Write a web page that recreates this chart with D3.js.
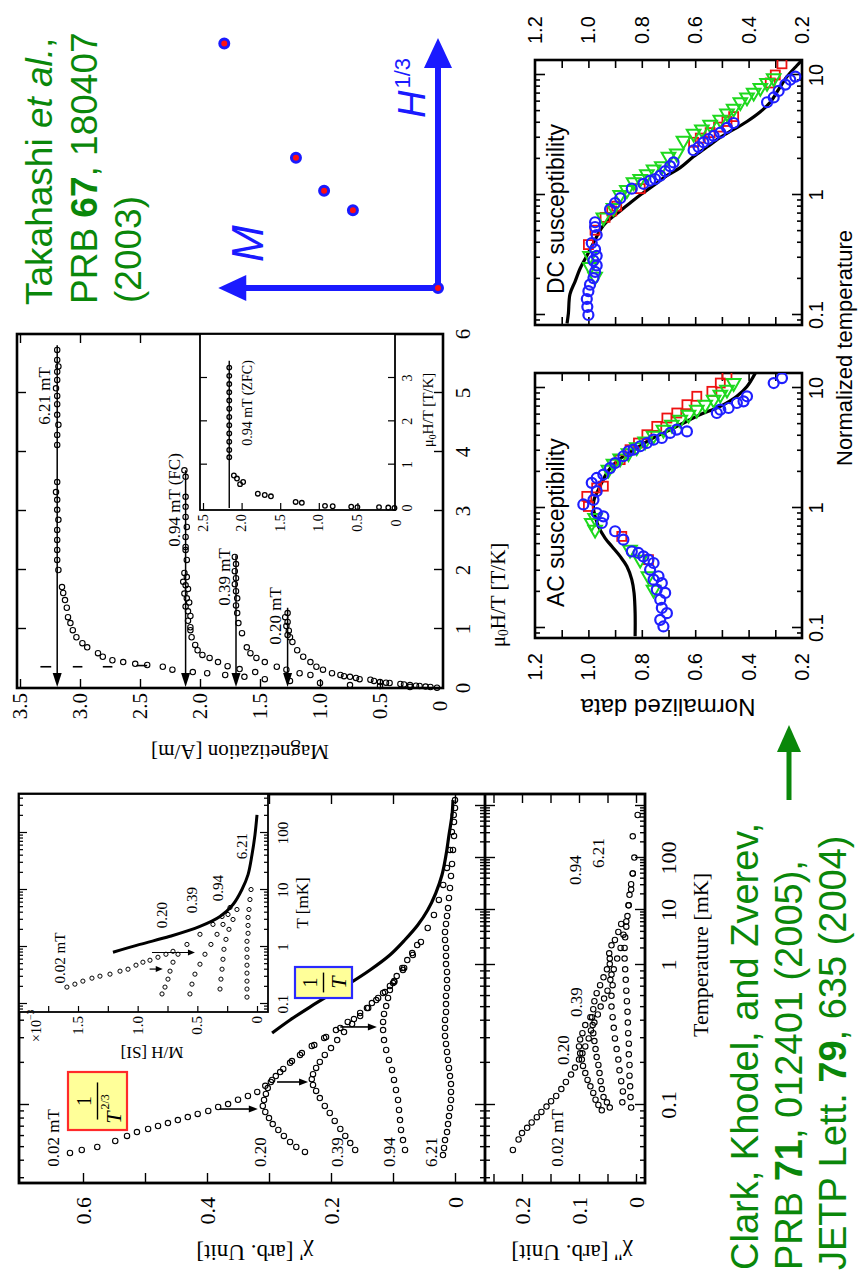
<!DOCTYPE html>
<html>
<head>
<meta charset="utf-8">
<script src="https://cdn.jsdelivr.net/npm/d3@7/dist/d3.min.js"></script>
<style>
html,body{margin:0;padding:0;background:#fff;}
svg{display:block;}
</style>
</head>
<body>
<script>
// ================= DATA =================
// Panel A: AC susceptibility chi' (T in mK, chi' in arb. units)
const chiP_002 = [[0.0454,0.621],[0.0477,0.602],[0.0501,0.577],[0.0553,0.548],[0.0601,0.529],[0.0641,0.513],[0.0674,0.495],[0.0708,0.479],[0.0743,0.463],[0.078,0.447],[0.082,0.431],[0.0863,0.415],[0.0906,0.398],[0.0968,0.382],[0.1016,0.366],[0.109,0.35],[0.116,0.334],[0.124,0.319],[0.137,0.306],[0.151,0.295],[0.172,0.282],[0.2,0.266],[0.228,0.25],[0.264,0.231],[0.301,0.211],[0.343,0.192],[0.392,0.173],[0.454,0.153],[0.535,0.134],[0.631,0.116],[0.769,0.098],[0.952,0.082],[1.52,0.068],[2.62,0.055],[4.71,0.044],[8.11,0.034],[15.6,0.026],[30.3,0.019],[64.3,0.013],[143,0.008],[316,0.005],[671,0.002],[1300,0.0]];
const chiP_020 = [[0.0462,0.242],[0.0501,0.256],[0.0544,0.266],[0.0601,0.276],[0.0663,0.285],[0.0731,0.294],[0.0807,0.300],[0.0891,0.306],[0.0984,0.310],[0.1086,0.308],[0.12,0.305],[0.132,0.302],[0.146,0.297],[0.161,0.289],[0.181,0.277],[0.206,0.263],[0.235,0.247],[0.268,0.227],[0.306,0.208],[0.355,0.185],[0.411,0.163],[0.493,0.142],[0.581,0.124],[0.708,0.105]];
const chiP_039 = [[0.0477,0.161],[0.0535,0.169],[0.0601,0.177],[0.0674,0.185],[0.0769,0.194],[0.0877,0.202],[0.0984,0.21],[0.112,0.218],[0.126,0.224],[0.139,0.229],[0.153,0.231],[0.166,0.229],[0.184,0.224],[0.203,0.218],[0.228,0.21],[0.255,0.2],[0.291,0.19],[0.332,0.179],[0.379,0.166],[0.432,0.153],[0.493,0.14],[0.562,0.127],[0.641,0.113],[0.756,0.098],[0.921,0.084]];
const chiP_094 = [[0.0477,0.0806],[0.0562,0.0839],[0.0663,0.0871],[0.0781,0.0887],[0.0921,0.0903],[0.1086,0.0919],[0.128,0.0952],[0.151,0.0984],[0.178,0.1016],[0.21,0.1065],[0.247,0.111],[0.291,0.1145],[0.343,0.116],[0.392,0.116],[0.447,0.1145],[0.509,0.111],[0.581,0.108],[0.663,0.105],[0.744,0.1],[0.834,0.094],[0.952,0.085],[1.23,0.077],[1.65,0.069],[2.31,0.061]];
const chiP_621 = [[0.0439,0.0194],[0.0493,0.0177],[0.0562,0.0161],[0.0641,0.0129],[0.0731,0.0113],[0.0834,0.0097],[0.0952,0.0081],[0.1086,0.0065],[0.124,0.0065],[0.141,0.0065],[0.161,0.0081],[0.184,0.0097],[0.21,0.0113],[0.239,0.0129],[0.273,0.0145],[0.311,0.0161],[0.355,0.0161],[0.405,0.0161],[0.462,0.0145],[0.526,0.0145],[0.601,0.0145],[0.685,0.0129],[0.781,0.0129],[0.891,0.0129],[1.04,0.0145],[1.46,0.0145],[2.04,0.0145],[2.85,0.0161],[3.98,0.0161],[5.56,0.0145],[7.78,0.0129],[10.9,0.0113],[17,0.0097],[26.5,0.0081],[45.1,0.0065],[76.7,0.0048],[143,0.0032],[265,0.0016],[492,0.0016],[916,0.0]];
const fitInvT = [[0.327,0.295],[0.405,0.266],[0.501,0.234],[0.611,0.202],[0.744,0.169],[0.921,0.137],[1.52,0.105],[2.85,0.081],[5.34,0.06],[10,0.044],[21.2,0.031],[47.1,0.021],[114,0.0145],[277,0.0097],[671,0.0048],[1300,0.0032]];
// peak arrows: [T, chi' start, chi' end]
const chiP_arrows = [[0.0936,0.379,0.318],[0.146,0.287,0.237],[0.361,0.185,0.126]];

// Panel A: chi''
const chiPP_002 = [[0.0477,0.216],[0.0567,0.206],[0.063,0.2],[0.0687,0.191],[0.075,0.183],[0.0818,0.174],[0.0893,0.166],[0.0975,0.157],[0.1064,0.149],[0.116,0.14],[0.13,0.131],[0.146,0.123],[0.165,0.114],[0.185,0.107],[0.211,0.1],[0.234,0.094],[0.262,0.089],[0.299,0.083],[0.341,0.079],[0.388,0.073],[0.443,0.067],[0.505,0.062],[0.576,0.056],[0.656,0.05],[0.783,0.045],[0.931,0.039],[1.31,0.033],[2.04,0.027],[3.56,0.022],[6.21,0.017],[12.3,0.013],[24.8,0.0086],[50.3,0.0057],[102,0.0029],[261,0.0057],[671,-0.0029]];
const chiPP_020 = [[0.0916,0.06],[0.1,0.066],[0.109,0.071],[0.122,0.075],[0.136,0.08],[0.151,0.085],[0.169,0.089],[0.19,0.093],[0.211,0.095],[0.234,0.098],[0.262,0.1],[0.294,0.098],[0.326,0.094],[0.372,0.089],[0.424,0.08]];
const chiPP_039 = [[0.0958,0.046],[0.1045,0.051],[0.114,0.057],[0.13,0.06],[0.148,0.062],[0.169,0.064],[0.193,0.066],[0.22,0.069],[0.251,0.071],[0.286,0.073],[0.326,0.075],[0.372,0.076],[0.424,0.077],[0.483,0.075],[0.551,0.073],[0.629,0.069],[0.718,0.063],[0.817,0.057],[0.931,0.051],[1.31,0.046]];
const chiPP_094 = [[0.1045,0.024],[0.125,0.023],[0.148,0.026],[0.177,0.029],[0.211,0.031],[0.251,0.034],[0.299,0.037],[0.356,0.039],[0.424,0.041],[0.505,0.043],[0.602,0.043],[0.718,0.041],[0.854,0.043],[1.04,0.046],[1.63,0.047],[2.28,0.043],[2.85,0.037],[3.98,0.031],[5.56,0.026]];
const chiPP_621 = [[0.0958,0.0086],[0.114,0.0097],[0.136,0.0103],[0.162,0.0114],[0.193,0.0114],[0.23,0.0126],[0.274,0.0126],[0.326,0.0137],[0.388,0.0143],[0.463,0.0149],[0.551,0.016],[0.656,0.017],[0.783,0.018],[0.931,0.019],[1.31,0.02],[2.04,0.02],[3.18,0.019],[4.97,0.017],[7.74,0.015],[12.3,0.013],[19.6,0.0114],[31.3,0.0086],[50.3,0.0057]];

// Inset of panel A: M/H (x10^-3 SI) vs T (mK)
const ins_fit = [[0.808,1.207],[1.11,0.981],[1.54,0.729],[2.3,0.478],[3.43,0.31],[5.56,0.201],[10.2,0.126],[18.6,0.075],[41.5,0.042],[92.7,0.017],[207,0.0]];
const ins_002 = [[0.198,1.593],[0.223,1.526],[0.252,1.459],[0.284,1.383],[0.308,1.316],[0.334,1.232],[0.377,1.148],[0.408,1.081],[0.48,1.014],[0.541,0.956],[0.586,0.897],[0.661,0.83],[0.746,0.763],[0.841,0.704]];
const ins_020 = [[0.15,0.796],[0.198,0.771],[0.273,0.746],[0.377,0.729],[0.541,0.704],[0.746,0.662],[1.11,0.587],[1.67,0.478],[2.49,0.369],[3.43,0.293],[4.94,0.226]];
const ins_039 = [[0.15,0.562],[0.223,0.545],[0.334,0.52],[0.499,0.478],[0.746,0.436],[1.11,0.386],[1.67,0.335],[2.49,0.285],[3.72,0.243]];
const ins_094 = [[0.183,0.31],[0.273,0.302],[0.408,0.293],[0.609,0.285],[0.912,0.277],[1.36,0.26],[2.04,0.235],[3.04,0.201],[4.55,0.168]];
const ins_621 = [[0.132,0.084],[0.183,0.084],[0.252,0.084],[0.348,0.084],[0.48,0.084],[0.661,0.084],[0.912,0.084],[1.26,0.084],[1.74,0.075],[2.39,0.075],[3.3,0.075],[4.55,0.067],[6.8,0.059],[10.2,0.05]];
const ins_arrows = [[0.8,0.88,0.52],[0.41,0.9,0.79]];

// Panel B: magnetization (A/m) vs mu0H/T (T/K)
const magFields = ["6.21 mT", "0.94 mT (FC)", "0.39 mT", "0.20 mT"];
const magPlateauM = [3.19, 2.12, 1.70, 1.27];
const magPlateauEnd = [5.81, 3.69, 2.25, 1.36];
const mag_621 = [[5.73,3.19],[5.56,3.19],[5.45,3.18],[5.36,3.19],[5.22,3.19],[5.08,3.2],[4.95,3.19],[4.81,3.19],[4.63,3.19],[4.46,3.18],[4.29,3.19],[4.12,3.19],[3.49,3.19],[3.32,3.2],[3.19,3.19],[3.02,3.19],[2.85,3.18],[2.68,3.19],[2.51,3.19],[2.34,3.19],[2.17,3.19],[2.0,3.18],[1.71,3.15],[1.61,3.14],[1.49,3.125],[1.36,3.11],[1.2,3.1],[1.1,3.08],[0.98,3.06],[0.86,3.03],[0.76,2.98],[0.69,2.94],[0.59,2.85],[0.53,2.81],[0.47,2.73],[0.44,2.64],[0.41,2.54],[0.39,2.44],[0.36,2.31],[0.31,2.23],[0.27,2.06],[0.25,1.94],[0.22,1.79],[0.19,1.63],[0.15,1.46],[0.12,1.25],[0.085,1.0],[0.05,0.75],[0.034,0.5],[0.017,0.25]];
const mag_094 = [[3.69,2.13],[3.58,2.12],[3.24,2.12],[3.07,2.12],[2.9,2.12],[2.73,2.11],[2.56,2.12],[2.39,2.12],[2.34,2.12],[2.17,2.11],[1.95,2.13],[1.88,2.11],[1.8,2.14],[1.74,2.12],[1.68,2.1],[1.6,2.13],[1.52,2.11],[1.45,2.09],[1.38,2.12],[1.3,2.1],[1.22,2.08],[1.14,2.1],[1.03,2.08],[0.98,2.08],[0.86,2.07],[0.73,2.04],[0.64,2.02],[0.56,1.98],[0.51,1.92],[0.44,1.85],[0.37,1.77],[0.32,1.67],[0.27,1.54]];
const mag_039 = [[2.22,1.71],[2.1,1.7],[1.98,1.71],[1.86,1.7],[1.76,1.71],[1.64,1.7],[1.52,1.69],[1.4,1.7],[1.27,1.69],[1.1,1.68],[0.93,1.65],[0.69,1.61],[0.59,1.58],[0.51,1.53],[0.44,1.46],[0.36,1.36],[0.31,1.28],[0.25,1.17],[0.22,1.08]];
const mag_020 = [[1.27,1.27],[1.2,1.29],[1.12,1.27],[1.05,1.28],[0.97,1.26],[0.9,1.27],[0.86,1.25],[0.78,1.23],[0.64,1.19],[0.53,1.14],[0.44,1.08],[0.36,1.03],[0.31,0.975],[0.25,0.9]];
const mag_low = [[0.22,0.83],[0.19,0.75],[0.15,0.67],[0.14,0.58],[0.1,0.5],[0.085,0.42],[0.068,0.33],[0.05,0.25],[0.034,0.17],[0.017,0.08],[0.005,0.025],[0.2,0.8],[0.17,0.7],[0.12,0.55],[0.09,0.45],[0.06,0.3],[0.04,0.2],[0.025,0.12]];
const mag_bars = [[0.36,3.24,3.33],[0.36,2.98,3.06],[0.36,2.73,2.81],[0.38,2.44,2.53]];
// Inset of panel B: 0.94 mT ZFC
const zfcM = 2.16, zfcEnd = 3.4;
const zfc = [[3.24,2.16],[3.05,2.16],[2.86,2.16],[2.67,2.16],[2.48,2.16],[2.29,2.16],[2.1,2.16],[1.91,2.16],[1.72,2.16],[1.53,2.16],[1.34,2.16],[1.17,2.16],[0.75,2.1],[0.68,2.06],[0.6,1.98],[0.55,2.02],[0.33,1.79],[0.3,1.7],[0.27,1.62],[0.14,1.3],[0.12,1.22],[0.05,0.92],[0.04,0.82],[0.03,0.58],[0.02,0.5],[0.02,0.22],[0.01,0.1],[0.0,0.02]];

// Panel C/D: normalized data vs normalized temperature
const ac_fit = [[0.0853,0.825],[0.133,0.825],[0.196,0.829],[0.253,0.8375],[0.327,0.856],[0.395,0.881],[0.48,0.9125],[0.562,0.9375],[0.704,0.9625],[0.852,0.975],[1.0,0.981],[1.17,0.979],[1.33,0.969],[1.62,0.95],[1.96,0.931],[2.3,0.906],[2.7,0.869],[3.16,0.819],[3.71,0.769],[4.35,0.706],[5.11,0.644],[6.0,0.581],[7.03,0.506],[8.53,0.444],[10.3,0.406],[13.3,0.375]];
const ac_blue = [[0.103,0.719],[0.117,0.731],[0.133,0.706],[0.147,0.725],[0.172,0.731],[0.196,0.7125],[0.209,0.744],[0.237,0.725],[0.253,0.756],[0.27,0.7375],[0.306,0.769],[0.348,0.756],[0.371,0.775],[0.395,0.794],[0.422,0.8125],[0.435,0.8375],[0.545,0.869],[0.64,0.9],[0.75,0.95],[0.852,0.944],[0.908,0.969],[1.07,1.019],[1.17,0.981],[1.38,0.969],[1.62,0.9875],[1.78,0.969],[1.9,0.944],[2.15,0.919],[2.37,0.9],[2.7,0.869],[2.97,0.85],[3.06,0.831],[3.27,0.806],[3.48,0.781],[3.71,0.756],[3.83,0.725],[4.22,0.694],[4.5,0.669],[4.35,0.631],[6.19,0.519],[6.6,0.506],[6.81,0.475],[7.5,0.444],[7.74,0.419],[8.53,0.406],[11.0,0.306],[12.1,0.275]];
const ac_red = [[1.25,1.006],[1.03,1.0],[1.47,0.969],[1.52,0.944],[0.58,0.875],[0.371,0.775],[2.53,0.881],[3.06,0.844],[3.48,0.8125],[4.08,0.781],[4.79,0.744],[5.62,0.706],[6.19,0.669],[7.26,0.631],[8.53,0.594],[9.38,0.5375],[11.0,0.506],[12.9,0.481]];
const ac_green = [[0.209,0.756],[0.27,0.775],[0.371,0.806],[0.45,0.844],[0.66,0.975],[0.75,0.9875],[0.826,0.975],[2.09,0.925],[2.34,0.906],[2.59,0.881],[2.87,0.85],[3.22,0.819],[3.59,0.7875],[4.01,0.756],[4.5,0.719],[4.95,0.6875],[5.45,0.656],[6.0,0.625],[6.6,0.594],[7.26,0.5625],[8.0,0.531],[8.8,0.506],[9.68,0.481],[11.0,0.456]];
const dc_fit = [[0.085,1.08],[0.103,1.075],[0.149,1.069],[0.19,1.05],[0.244,1.031],[0.311,1.006],[0.398,0.981],[0.479,0.9625],[0.558,0.944],[0.631,0.919],[0.736,0.881],[0.858,0.844],[1.0,0.806],[1.2,0.756],[1.45,0.706],[1.69,0.656],[2.09,0.606],[2.51,0.556],[3.02,0.506],[3.52,0.456],[4.1,0.406],[4.94,0.356],[5.93,0.319],[7.59,0.2875],[9.7,0.256],[12.0,0.219],[13.3,0.2]];
const dc_blue = [[0.1,1.0],[0.117,1.004],[0.136,1.006],[0.158,1.0],[0.179,0.994],[0.203,0.981],[0.229,0.975],[0.259,0.969],[0.284,0.981],[0.311,0.969],[0.352,0.975],[0.398,0.9875],[0.464,0.969],[0.541,0.975],[0.593,0.975],[0.759,0.919],[0.858,0.9],[0.94,0.881],[1.13,0.8375],[1.24,0.794],[1.32,0.769],[1.36,0.75],[1.45,0.731],[1.58,0.7125],[1.74,0.694],[1.87,0.681],[2.36,0.606],[2.51,0.5875],[2.75,0.569],[2.93,0.55],[3.11,0.531],[3.31,0.506],[3.63,0.481],[3.98,0.456],[5.93,0.331],[6.5,0.306],[7.36,0.2875],[8.32,0.2625],[9.12,0.244],[9.7,0.225]];
const dc_red = [[0.386,1.0],[0.509,0.975],[0.651,0.9375],[0.736,0.9125],[0.807,0.894],[1.13,0.806],[2.75,0.606],[2.98,0.581],[3.31,0.544],[3.68,0.5125],[4.1,0.481],[4.5,0.456],[8.58,0.319],[10.0,0.3],[12.4,0.275]];
const dc_green = [[0.209,0.975],[0.251,0.994],[0.311,0.994],[0.651,0.944],[0.782,0.906],[1.0,0.881],[1.1,0.856],[1.28,0.831],[1.36,0.806],[1.49,0.781],[1.63,0.756],[1.74,0.725],[2.09,0.7],[2.22,0.669],[2.84,0.644],[3.25,0.606],[3.52,0.575],[3.86,0.544],[4.24,0.506],[4.79,0.481],[5.25,0.456],[5.93,0.431],[6.5,0.406],[7.13,0.381],[7.82,0.356],[8.58,0.331],[9.4,0.306]];

// Schematic: M against H^(1/3) for the four fields
const schemFields = [0.20, 0.39, 0.94, 6.21];
const schemM = [1.27, 1.70, 2.12, 3.19];

// ================= DRAWING =================
const SERIF = "'Liberation Serif','Times New Roman',serif";
const SANS = "'Liberation Sans',Arial,Helvetica,sans-serif";
const W = 1278, H = 858;

const svg = d3.select('body').append('svg').attr('width', H).attr('height', W);
svg.append('rect').attr('width', H).attr('height', W).attr('fill', '#fff');
// the whole sheet is laid out landscape and turned a quarter turn
const root = svg.append('g').attr('transform', `translate(0,${W}) rotate(-90)`);

function txt(parent, u, v, s, o = {}) {
  const t = parent.append('text').attr('x', u).attr('y', v)
    .attr('font-family', o.family || SERIF).attr('font-size', o.size || 16)
    .attr('text-anchor', o.anchor || 'middle')
    .attr('dominant-baseline', o.baseline || 'central')
    .attr('fill', o.fill || '#000');
  if (s !== null) t.text(s);
  if (o.rotate) t.attr('transform', `rotate(${o.rotate},${u},${v})`);
  if (o.style) t.attr('font-style', o.style);
  if (o.weight) t.attr('font-weight', o.weight);
  return t;
}
function ticks(parent, axis, tx, ty, sw = 1.4) {
  const gg = parent.append('g').attr('transform', `translate(${tx},${ty})`).call(axis);
  gg.select('.domain').remove();
  gg.selectAll('.tick line').attr('stroke', '#000').attr('stroke-width', sw);
  gg.selectAll('.tick text').remove();
  return gg;
}
function frame(parent, u0, v0, u1, v1, sw) {
  parent.append('rect').attr('x', u0).attr('y', v0).attr('width', u1 - u0).attr('height', v1 - v0)
    .attr('fill', 'none').attr('stroke', '#000').attr('stroke-width', sw);
}
function minorLog(lo, hi) {
  const out = [];
  for (let e = Math.floor(Math.log10(lo)); e <= Math.ceil(Math.log10(hi)); e++)
    for (let k = 2; k <= 9; k++) { const t = k * Math.pow(10, e); if (t > lo && t < hi) out.push(t); }
  return out;
}
function openCircles(parent, data, sx, sy, r, stroke, sw) {
  parent.append('g').selectAll('circle').data(data).join('circle')
    .attr('cx', d => sx(d[0])).attr('cy', d => sy(d[1])).attr('r', r)
    .attr('fill', 'none').attr('stroke', stroke).attr('stroke-width', sw);
}

// ---------- Panel A: chi' and chi'' ----------
const A = { u0: 95, u1: 484, v0: 19, vd: 485, v1: 645 };
const xAlog = d3.scaleLinear().domain([-1, 0, 1, 2]).range([173, 313, 368, 420]);
const xA = t => xAlog(Math.log10(t));
const yA1 = d3.scaleLinear().domain([0, 0.6]).range([455, 83]);
const yA2 = d3.scaleLinear().domain([0, 0.2]).range([636, 522]);
const IA = { u0: 266, u1: 484, v0: 19, v1: 268 };
const gA = root.append('g');

frame(gA, A.u0, A.v0, A.u1, A.v1, 2.8);
gA.append('line').attr('x1', A.u0).attr('x2', A.u1).attr('y1', A.vd).attr('y2', A.vd).attr('stroke', '#000').attr('stroke-width', 2.8);

const tLo = Math.pow(10, xAlog.invert(A.u0)), tHi = Math.pow(10, xAlog.invert(A.u1));
const majA = [0.1, 1, 10, 100, 1000].filter(t => t < tHi).map(Math.log10);
const minA = minorLog(tLo, tHi).map(Math.log10);
[[majA, 10], [minA, 5]].forEach(([vals, len]) => {
  ticks(gA, d3.axisBottom(xAlog).tickValues(vals).tickSize(-len), 0, A.vd);
  ticks(gA, d3.axisBottom(xAlog).tickValues(vals).tickSize(len), 0, A.vd);
  ticks(gA, d3.axisBottom(xAlog).tickValues(vals).tickSize(-len), 0, A.v1);
  ticks(gA, d3.axisTop(xAlog).tickValues(vals.filter(v => xAlog(v) < IA.u0 - 2)).tickSize(-len), 0, A.v0);
});
ticks(gA, d3.axisLeft(yA1).tickValues(d3.range(0, 0.65, 0.1)).tickSize(-10), A.u0, 0);
ticks(gA, d3.axisRight(yA1).tickValues(d3.range(0, 0.35, 0.1)).tickSize(-10), A.u1, 0);
ticks(gA, d3.axisLeft(yA2).tickValues(d3.range(0, 0.26, 0.05)).tickSize(-9), A.u0, 0);
ticks(gA, d3.axisRight(yA2).tickValues(d3.range(0, 0.26, 0.05)).tickSize(-9), A.u1, 0);

[0, 0.2, 0.4, 0.6].forEach(v => txt(gA, 81, yA1(v), v === 0 ? '0' : d3.format('.1f')(v), { size: 22, anchor: 'end' }));
[0, 0.1, 0.2].forEach(v => txt(gA, 81, yA2(v), v === 0 ? '0' : d3.format('.1f')(v), { size: 22, anchor: 'end' }));
[0.1, 1, 10, 100].forEach(t => txt(gA, xA(t), 668, String(t), { size: 22 }));
txt(gA, 323, 700, 'Temperature [mK]', { size: 22 });
txt(gA, 26, 255, "χ' [arb. Unit]", { size: 23, rotate: -90 });
txt(gA, 26, 572, "χ'' [arb. Unit]", { size: 23, rotate: -90 });

// data
[chiP_002, chiP_020, chiP_039, chiP_094, chiP_621].forEach(s => openCircles(gA, s, xA, yA1, 2.7, '#000', 1.1));
gA.append('path').datum(fitInvT)
  .attr('d', d3.line().x(d => xA(d[0])).y(d => yA1(d[1])).curve(d3.curveCatmullRom))
  .attr('fill', 'none').attr('stroke', '#000').attr('stroke-width', 3.2);
[chiPP_002, chiPP_020, chiPP_039, chiPP_094, chiPP_621].forEach(s => openCircles(gA, s, xA, yA2, 2.7, '#000', 1.1));

function downArrow(parent, u, vFrom, vTo, head = 9, half = 3.5, sw = 1.6) {
  parent.append('line').attr('x1', u).attr('x2', u).attr('y1', vFrom).attr('y2', vTo - head + 1)
    .attr('stroke', '#000').attr('stroke-width', sw);
  parent.append('path').attr('d', `M${u},${vTo}L${u - half},${vTo - head}L${u + half},${vTo - head}Z`).attr('fill', '#000');
}
chiP_arrows.forEach(d => downArrow(gA, xA(d[0]), yA1(d[1]), yA1(d[2])));

// curve labels
txt(gA, 140, 53, '0.02 mT', { size: 17 });
txt(gA, 126, 260, '0.20', { size: 17 });
txt(gA, 126, 337, '0.39', { size: 17 });
txt(gA, 126, 389, '0.94', { size: 17 });
txt(gA, 126, 431, '6.21', { size: 17 });
txt(gA, 140, 557, '0.02 mT', { size: 17 });
txt(gA, 228, 563, '0.20', { size: 17 });
txt(gA, 276, 576, '0.39', { size: 17 });
txt(gA, 408, 575, '0.94', { size: 17 });
txt(gA, 425, 598, '6.21', { size: 17 });

// formula boxes
function fracBox(parent, u0, v0, w, h, stroke, num, den, sup) {
  parent.append('rect').attr('x', u0).attr('y', v0).attr('width', w).attr('height', h)
    .attr('fill', '#ffff99').attr('stroke', stroke).attr('stroke-width', 2.2);
  const uc = u0 + w / 2;
  txt(parent, uc, v0 + h * 0.27, num, { size: 20 });
  parent.append('line').attr('x1', u0 + w * 0.18).attr('x2', u0 + w * 0.82)
    .attr('y1', v0 + h * 0.5).attr('y2', v0 + h * 0.5).attr('stroke', '#000').attr('stroke-width', 1.4);
  const t = txt(parent, sup ? uc - 8 : uc, v0 + h * 0.76, null, { size: 22, style: 'italic' });
  t.append('tspan').text(den);
  if (sup) t.append('tspan').attr('font-size', 12).attr('font-style', 'normal').attr('dy', -8).attr('dx', 2).text(sup);
}
fracBox(gA, 148, 68, 58, 59, '#ff2a2a', '1', 'T', '2/3');
fracBox(gA, 280, 295, 31, 57, '#2a2aff', '1', 'T', null);

// inset of panel A
const xI = d3.scaleLog().domain([0.1, 100]).range([274, 445]);
const yI = d3.scaleLinear().domain([0, 1.5]).range([257, 78]);
gA.append('rect').attr('x', IA.u0).attr('y', IA.v0).attr('width', IA.u1 - IA.u0).attr('height', IA.v1 - IA.v0)
  .attr('fill', '#fff').attr('stroke', '#000').attr('stroke-width', 1.8);
const iLo = xI.invert(IA.u0), iHi = xI.invert(IA.u1);
ticks(gA, d3.axisBottom(xI).tickValues([0.1, 1, 10, 100]).tickSize(-8), 0, IA.v1, 1.2);
ticks(gA, d3.axisBottom(xI).tickValues(minorLog(iLo, iHi)).tickSize(-4), 0, IA.v1, 1.2);
ticks(gA, d3.axisTop(xI).tickValues([0.1, 1, 10, 100]).tickSize(-8), 0, IA.v0, 1.2);
ticks(gA, d3.axisTop(xI).tickValues(minorLog(iLo, iHi)).tickSize(-4), 0, IA.v0, 1.2);
ticks(gA, d3.axisLeft(yI).tickValues(d3.range(0, 1.9, 0.25)).tickSize(-6), IA.u0, 0, 1.2);
[0, 0.5, 1.0, 1.5].forEach(v => txt(gA, 262, yI(v), v === 0 ? '0' : d3.format('.1f')(v), { size: 15, anchor: 'end' }));
[0.1, 1, 10, 100].forEach(t => txt(gA, xI(t), 283, String(t), { size: 15 }));
txt(gA, 375, 302, 'T [mK]', { size: 17 });
txt(gA, 226, 152, 'M/H [SI]', { size: 17, rotate: -90 });
const xt = txt(gA, 236, 36, null, { size: 14, anchor: 'start' });
xt.append('tspan').text('×10');
xt.append('tspan').attr('font-size', 10).attr('dy', -6).text('−3');

gA.append('path').datum(ins_fit)
  .attr('d', d3.line().x(d => xI(d[0])).y(d => yI(d[1])).curve(d3.curveCatmullRom))
  .attr('fill', 'none').attr('stroke', '#000').attr('stroke-width', 3);
[ins_002, ins_020, ins_039, ins_094, ins_621].forEach(s => openCircles(gA, s, xI, yI, 2.1, '#000', 1));
ins_arrows.forEach(d => downArrow(gA, xI(d[0]), yI(d[1]), yI(d[2]), 7, 3, 1.2));
txt(gA, 320, 60, '0.02 mT', { size: 15 });
txt(gA, 363, 162, '0.20', { size: 15 });
txt(gA, 378, 192, '0.39', { size: 15 });
txt(gA, 390, 218, '0.94', { size: 15 });
txt(gA, 432, 242, '6.21', { size: 15 });

// ---------- Panel B: magnetization ----------
const B = { u0: 590, u1: 944, v0: 17, v1: 443 };
const xB = d3.scaleLinear().domain([0, 6]).range([590, 944]);
const yB = d3.scaleLinear().domain([0, 3.5]).range([440, 20]);
const gB = root.append('g');
frame(gB, B.u0, B.v0, B.u1, B.v1, 2.6);
ticks(gB, d3.axisBottom(xB).tickValues(d3.range(1, 6)).tickSize(-9), 0, B.v1);
ticks(gB, d3.axisTop(xB).tickValues(d3.range(1, 6)).tickSize(-9), 0, B.v0);
ticks(gB, d3.axisLeft(yB).tickValues(d3.range(0.5, 3.6, 0.5)).tickSize(-9), B.u0, 0);
ticks(gB, d3.axisRight(yB).tickValues(d3.range(0.5, 3.6, 0.5)).tickSize(-9), B.u1, 0);
d3.range(0, 3.6, 0.5).forEach(v => txt(gB, 572, yB(v), v === 0 ? '0' : d3.format('.1f')(v), { size: 21 }));
d3.range(0, 7).forEach(v => txt(gB, xB(v), 463, String(v), { size: 21 }));
txt(gB, 526, 240, 'Magnetization [A/m]', { size: 21, rotate: -90 });
function muLabel(parent, u, v, size) {
  const t = txt(parent, u, v, null, { size });
  t.append('tspan').text('μ');
  t.append('tspan').attr('font-size', size * 0.65).attr('dy', size * 0.25).text('0');
  t.append('tspan').attr('dy', -size * 0.25).text('H/T  [T/K]');
  return t;
}
muLabel(gB, 683, 498, 21);

magPlateauM.forEach((m, i) => {
  const u0 = xB(0), u1 = xB(magPlateauEnd[i]), v = yB(m);
  gB.append('line').attr('x1', u0 + 12).attr('x2', u1).attr('y1', v).attr('y2', v).attr('stroke', '#000').attr('stroke-width', 1.5);
  gB.append('path').attr('d', `M${u0 + 1},${v}L${u0 + 15},${v - 4.5}L${u0 + 15},${v + 4.5}Z`).attr('fill', '#000');
});
[mag_621, mag_094, mag_039, mag_020, mag_low].forEach(s => openCircles(gB, s, xB, yB, 2.7, '#000', 1.1));
gB.append('g').selectAll('line').data(mag_bars).join('line')
  .attr('x1', d => xB(d[0])).attr('x2', d => xB(d[0]))
  .attr('y1', d => yB(d[1])).attr('y2', d => yB(d[2])).attr('stroke', '#000').attr('stroke-width', 1.6);
txt(gB, 882, 44, magFields[0], { size: 17 });
txt(gB, 778, 174, magFields[1], { size: 17 });
txt(gB, 701, 224, magFields[2], { size: 17 });
txt(gB, 662, 275, magFields[3], { size: 17 });

// inset of panel B
const IB = { u0: 768, u1: 944, v0: 200, v1: 395 };
const xBI = d3.scaleLinear().domain([0, 3]).range([770, 900]);
const yBI = d3.scaleLinear().domain([0, 2.5]).range([396, 203]);
gB.append('rect').attr('x', IB.u0).attr('y', IB.v0).attr('width', IB.u1 - IB.u0).attr('height', IB.v1 - IB.v0)
  .attr('fill', '#fff').attr('stroke', '#000').attr('stroke-width', 1.8);
ticks(gB, d3.axisBottom(xBI).tickValues([1, 2, 3]).tickSize(-7), 0, IB.v1, 1.2);
ticks(gB, d3.axisTop(xBI).tickValues([1, 2, 3]).tickSize(-7), 0, IB.v0, 1.2);
ticks(gB, d3.axisLeft(yBI).tickValues(d3.range(0.5, 2.6, 0.5)).tickSize(-7), IB.u0, 0, 1.2);
d3.range(0, 2.6, 0.5).forEach(v => txt(gB, 755, yBI(v), v === 0 ? '0' : d3.format('.1f')(v), { size: 14 }));
[0, 1, 2, 3].forEach(v => txt(gB, xBI(v), 407, String(v), { size: 14 }));
muLabel(gB, 868, 428, 15);
txt(gB, 875, 247, '0.94 mT (ZFC)', { size: 14 });
gB.append('line').attr('x1', xBI(0)).attr('x2', xBI(zfcEnd)).attr('y1', yBI(zfcM)).attr('y2', yBI(zfcM)).attr('stroke', '#000').attr('stroke-width', 1.4);
openCircles(gB, zfc, xBI, yBI, 2.3, '#000', 1.3);

// ---------- Panels C (AC) and D (DC) ----------
const yN = d3.scaleLinear().domain([0.2, 1.2]).range([802, 535]);
const xC = d3.scaleLog().domain([0.1, 10]).range([650, 890]);
const xD = d3.scaleLog().domain([0.1, 10]).range([963, 1203]);
const C = { u0: 640, u1: 905 }, D = { u0: 953, u1: 1218 }, NV = { v0: 535, v1: 802 };
const gCD = root.append('g');

const blue = '#1f1fff', red = '#ee1111', green = '#1ed81e';
const triD = d3.symbol().type(d3.symbolTriangle).size(80);
function normPanel(x, P, labelRight, title, fit, bl, rd, gr) {
  frame(gCD, P.u0, NV.v0, P.u1, NV.v1, 2.6);
  const lo = x.invert(P.u0), hi = x.invert(P.u1);
  const maj = [0.1, 1, 10], mn = minorLog(lo, hi);
  ticks(gCD, d3.axisBottom(x).tickValues(maj).tickSize(-10), 0, NV.v1, 1.6);
  ticks(gCD, d3.axisBottom(x).tickValues(mn).tickSize(-5), 0, NV.v1, 1.6);
  ticks(gCD, d3.axisTop(x).tickValues(maj).tickSize(-10), 0, NV.v0, 1.6);
  ticks(gCD, d3.axisTop(x).tickValues(mn).tickSize(-5), 0, NV.v0, 1.6);
  ticks(gCD, d3.axisLeft(yN).tickValues(d3.range(0.3, 1.15, 0.1)).tickSize(-8), P.u0, 0, 1.6);
  ticks(gCD, d3.axisRight(yN).tickValues(d3.range(0.3, 1.15, 0.1)).tickSize(-8), P.u1, 0, 1.6);
  [1.2, 1.0, 0.8, 0.6, 0.4, 0.2].forEach(v =>
    txt(gCD, labelRight ? P.u1 + 16 : P.u0 - 15, yN(v), d3.format('.1f')(v), { family: SANS, size: 20, anchor: labelRight ? 'start' : 'end' }));
  maj.forEach(t => txt(gCD, x(t), 816, String(t), { family: SANS, size: 20 }));
  txt(gCD, P.u0 + 31, 556, title, { family: SANS, size: 23, anchor: 'start' });
  const clipId = 'clip' + P.u0;
  gCD.append('clipPath').attr('id', clipId).append('rect').attr('x', P.u0).attr('y', NV.v0).attr('width', P.u1 - P.u0).attr('height', NV.v1 - NV.v0);
  const gg = gCD.append('g').attr('clip-path', `url(#${clipId})`);
  gg.append('path').datum(fit).attr('d', d3.line().x(d => x(d[0])).y(d => yN(d[1])).curve(d3.curveCatmullRom))
    .attr('fill', 'none').attr('stroke', '#000').attr('stroke-width', 3.2);
  gg.append('g').selectAll('rect').data(rd).join('rect')
    .attr('x', d => x(d[0]) - 4.5).attr('y', d => yN(d[1]) - 4.5).attr('width', 9).attr('height', 9)
    .attr('fill', 'none').attr('stroke', red).attr('stroke-width', 1.8);
  gg.append('g').selectAll('path').data(gr).join('path')
    .attr('d', triD).attr('transform', d => `translate(${x(d[0])},${yN(d[1])}) rotate(-90)`)
    .attr('fill', 'none').attr('stroke', green).attr('stroke-width', 2);
  openCircles(gg, bl, x, yN, 5, blue, 2.2);
}
normPanel(xC, C, false, 'AC susceptibility', ac_fit, ac_blue, ac_red, ac_green);
normPanel(xD, D, true, 'DC susceptibility', dc_fit, dc_blue, dc_red, dc_green);
txt(gCD, 571, 668, 'Normalized data', { family: SANS, size: 24, rotate: -90 });
txt(gCD, 930, 852, 'Normalized temperature', { family: SANS, size: 22, baseline: 'alphabetic' });

// ---------- Schematic M vs H^(1/3) ----------
const xE = d3.scaleLinear().domain([0, 1]).range([990, 1123]);
const yE = d3.scaleLinear().domain([0, 1]).range([438, 371]);
const gE = root.append('g');
const axisBlue = '#1a1aff';
const hEnd = 1.88, mEnd = 3.28;
gE.append('line').attr('x1', xE(0)).attr('x2', xE(hEnd) - 24).attr('y1', yE(0)).attr('y2', yE(0)).attr('stroke', axisBlue).attr('stroke-width', 6);
gE.append('path').attr('d', `M${xE(hEnd)},${yE(0)}L${xE(hEnd) - 30},${yE(0) - 14}L${xE(hEnd) - 30},${yE(0) + 14}Z`).attr('fill', axisBlue);
gE.append('line').attr('x1', xE(0)).attr('x2', xE(0)).attr('y1', yE(0)).attr('y2', yE(mEnd) + 24).attr('stroke', axisBlue).attr('stroke-width', 6);
gE.append('path').attr('d', `M${xE(0)},${yE(mEnd)}L${xE(0) - 13},${yE(mEnd) + 28}L${xE(0) + 13},${yE(mEnd) + 28}Z`).attr('fill', axisBlue);
const dots = [[0, 0]].concat(schemFields.map((f, i) => [Math.cbrt(f), schemM[i]]));
gE.append('g').selectAll('circle').data(dots).join('circle')
  .attr('cx', d => xE(d[0])).attr('cy', d => yE(d[1])).attr('r', 4.5)
  .attr('fill', '#ff1010').attr('stroke', axisBlue).attr('stroke-width', 3);
txt(gE, 1016, 263, 'M', { family: SANS, size: 44, style: 'italic', fill: axisBlue, anchor: 'start', baseline: 'alphabetic' });
const hl = txt(gE, 1160, 425, null, { family: SANS, size: 38, style: 'italic', fill: axisBlue, anchor: 'start', baseline: 'alphabetic' });
hl.append('tspan').text('H');
hl.append('tspan').attr('font-size', 22).attr('font-style', 'normal').attr('dy', -15).attr('dx', 2).text('1/3');

// ---------- citations ----------
const citeGreen = '#0a870a';
function cite(u, v, parts, size) {
  const t = txt(root, u, v, null, { family: SANS, size, fill: citeGreen, anchor: 'start', baseline: 'alphabetic' });
  parts.forEach(p => {
    const s = t.append('tspan').text(p[0]);
    if (p[1] === 'b') s.attr('font-weight', 'bold');
    if (p[1] === 'i') s.attr('font-style', 'italic');
  });
  return t;
}
cite(973, 52, [['Takahashi '], ['et al.', 'i'], [',']], 37);
cite(974, 97, [['PRB '], ['67', 'b'], [', 180407']], 37);
cite(975, 141, [['(2003)']], 37);
cite(8, 758, [['Clark, Khodel, and Zverev,']], 38);
cite(8, 802, [['PRB '], ['71', 'b'], [', 012401 (2005),']], 38);
cite(8, 846, [['JETP Lett. '], ['79', 'b'], [', 635 (2004)']], 38);
root.append('line').attr('x1', 478).attr('x2', 532).attr('y1', 789).attr('y2', 789).attr('stroke', citeGreen).attr('stroke-width', 5);
root.append('path').attr('d', 'M553,789L526,777L526,801Z').attr('fill', citeGreen);
</script>
</body>
</html>
